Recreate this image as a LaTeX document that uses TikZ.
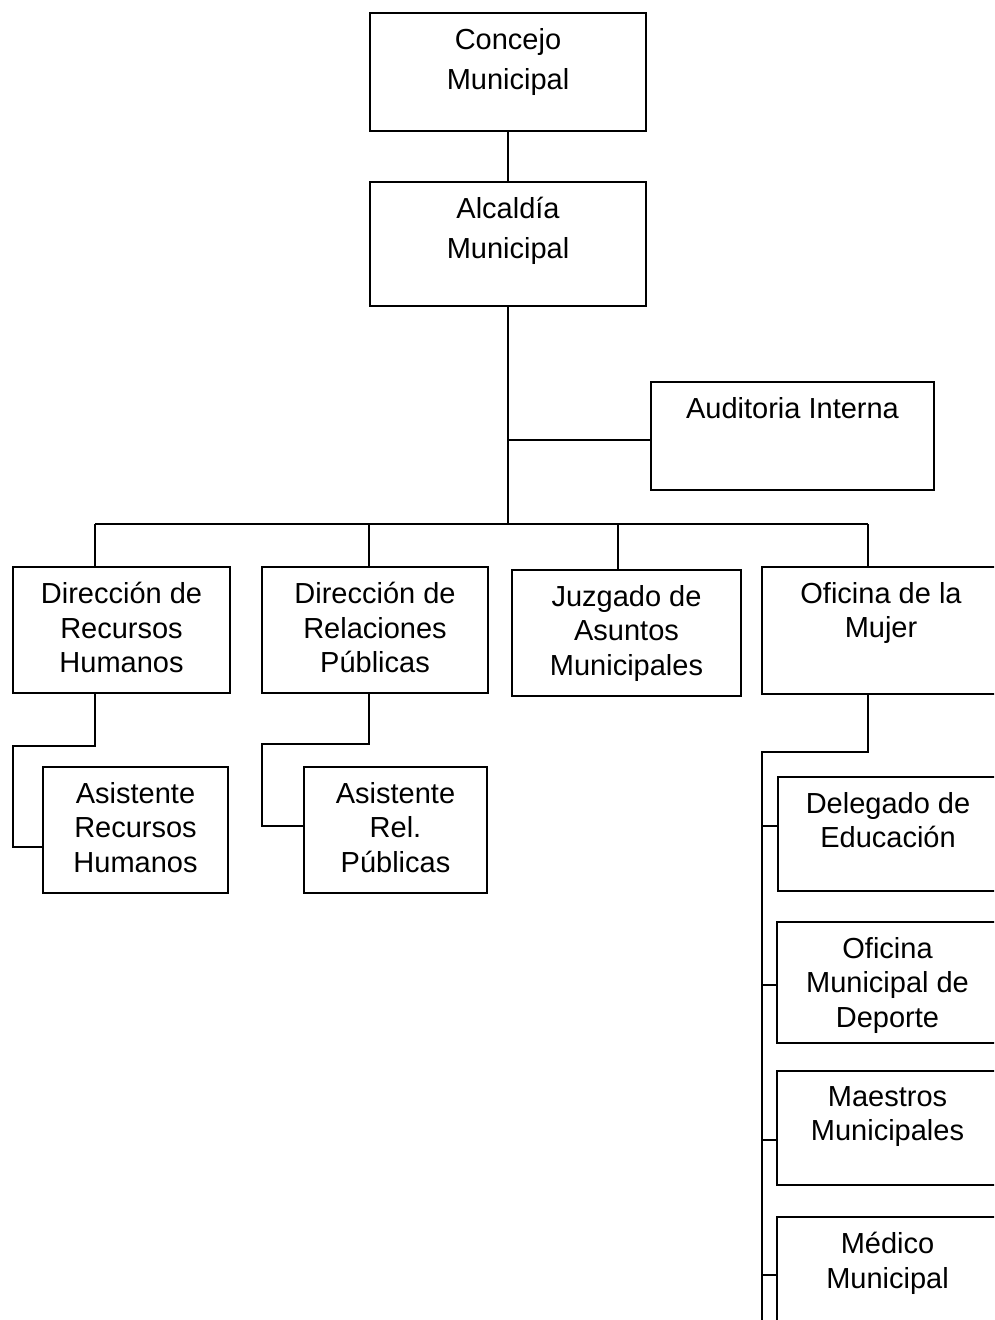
\documentclass[tikz,border=0pt]{standalone}
\usepackage{fontspec}
\setmainfont{Liberation Sans}
\usetikzlibrary{positioning,calc}

\tikzset{
  unit/.style 2 args={draw, line width=1.8pt, minimum width=#1, minimum height=#2, inner sep=0pt},
  txt/.style={anchor=north, inner sep=0pt, align=center, yshift=-16pt,
    font=\fontsize{29}{34.5}\selectfont},
  toptxt/.style={txt, font=\fontsize{29}{40}\selectfont},
  link/.style={line width=1.6pt},
  buslink/.style={line width=2.4pt}
}

\begin{document}
\begin{tikzpicture}[x=1pt, y=-1pt]
    \clip (0,0) rectangle (994,1320);
    % top of the chart
    \node[unit={276pt}{118pt}, label={[toptxt]north:{Concejo\\Municipal}}] (concejo) at (508,72) {};
    \node[unit={276pt}{124pt}, label={[toptxt]north:{Alcaldía\\Municipal}}] (alcaldia) at (508,244) {};
    \node[unit={283pt}{108pt}, label={[txt]north:{Auditoria Interna}}] (auditoria) at (792.5,436) {};
    % second row
    \node[unit={217pt}{126pt}, label={[txt]north:{Dirección de\\Recursos\\Humanos}}] (rrhh) at (121.5,630) {};
    \node[unit={226pt}{126pt}, label={[txt]north:{Dirección de\\Relaciones\\Públicas}}] (rrpp) at (375,630) {};
    \node[unit={229pt}{126pt}, label={[txt]north:{Juzgado de\\Asuntos\\Municipales}}] (juzgado) at (626.5,633) {};
    \node[unit={238pt}{127pt}, label={[txt]north:{Oficina de la\\Mujer}}] (mujer) at (881,630.5) {};
    % assistants
    \node[unit={185pt}{126pt}, label={[txt]north:{Asistente\\Recursos\\Humanos}}] (asisrrhh) at (135.5,830) {};
    \node[unit={183pt}{126pt}, label={[txt]north:{Asistente\\Rel.\\Públicas}}] (asisrrpp) at (395.5,830) {};
    % under Oficina de la Mujer
    \node[unit={220pt}{114pt}, label={[txt]north:{Delegado de\\Educación}}] (educacion) at (888,834) {};
    \node[unit={221pt}{121pt}, label={[txt]north:{Oficina\\Municipal de\\Deporte}}] (deporte) at (887.5,982.5) {};
    \node[unit={221pt}{114pt}, label={[txt]north:{Maestros\\Municipales}}] (maestros) at (887.5,1128) {};
    \node[unit={221pt}{123pt}, label={[txt]north:{Médico\\Municipal}}] (medico) at (887.5,1278.5) {};

    % connectors
    \coordinate (bus) at (508,524);
    \coordinate (b1) at (95,524);
    \coordinate (b2) at (369,524);
    \coordinate (b3) at (618,524);
    \coordinate (b4) at (868,524);
    \coordinate (k1) at (13,746);
    \coordinate (k2) at (262,744);
    \coordinate (k3) at (762,752);
    \coordinate (k4) at (762,1330);
    \coordinate (audin) at ([yshift=-4pt]auditoria.west);
    \coordinate (rrhhin) at ([yshift=-17pt]asisrrhh.west);
    \coordinate (rrppin) at ([yshift=4pt]asisrrpp.west);
    \coordinate (eduin) at ([yshift=8pt]educacion.west);
    \coordinate (depin) at ([yshift=-2.5pt]deporte.west);
    \coordinate (maein) at ([yshift=-12pt]maestros.west);
    \coordinate (medin) at ([yshift=3.5pt]medico.west);

    \draw[link] (concejo.south) -- (alcaldia.north);
    \draw[link] (alcaldia.south) -- (bus);
    \draw[link] (audin) -- (bus |- audin);
    \draw[buslink] (b1) -- (b4);
    \draw[link] (b1) -- (b1 |- rrhh.north);
    \draw[link] (b2) -- (b2 |- rrpp.north);
    \draw[link] (b3) -- (b3 |- juzgado.north);
    \draw[link] (b4) -- (b4 |- mujer.north);

    \draw[link] (b1 |- rrhh.south) |- (k1) |- (rrhhin);
    \draw[link] (b2 |- rrpp.south) |- (k2) |- (rrppin);
    \draw[link] (b4 |- mujer.south) |- (k3) -- (k4);
    \draw[link] (k3 |- eduin) -- (eduin);
    \draw[link] (k3 |- depin) -- (depin);
    \draw[link] (k3 |- maein) -- (maein);
    \draw[link] (k3 |- medin) -- (medin);
\end{tikzpicture}
\end{document}
